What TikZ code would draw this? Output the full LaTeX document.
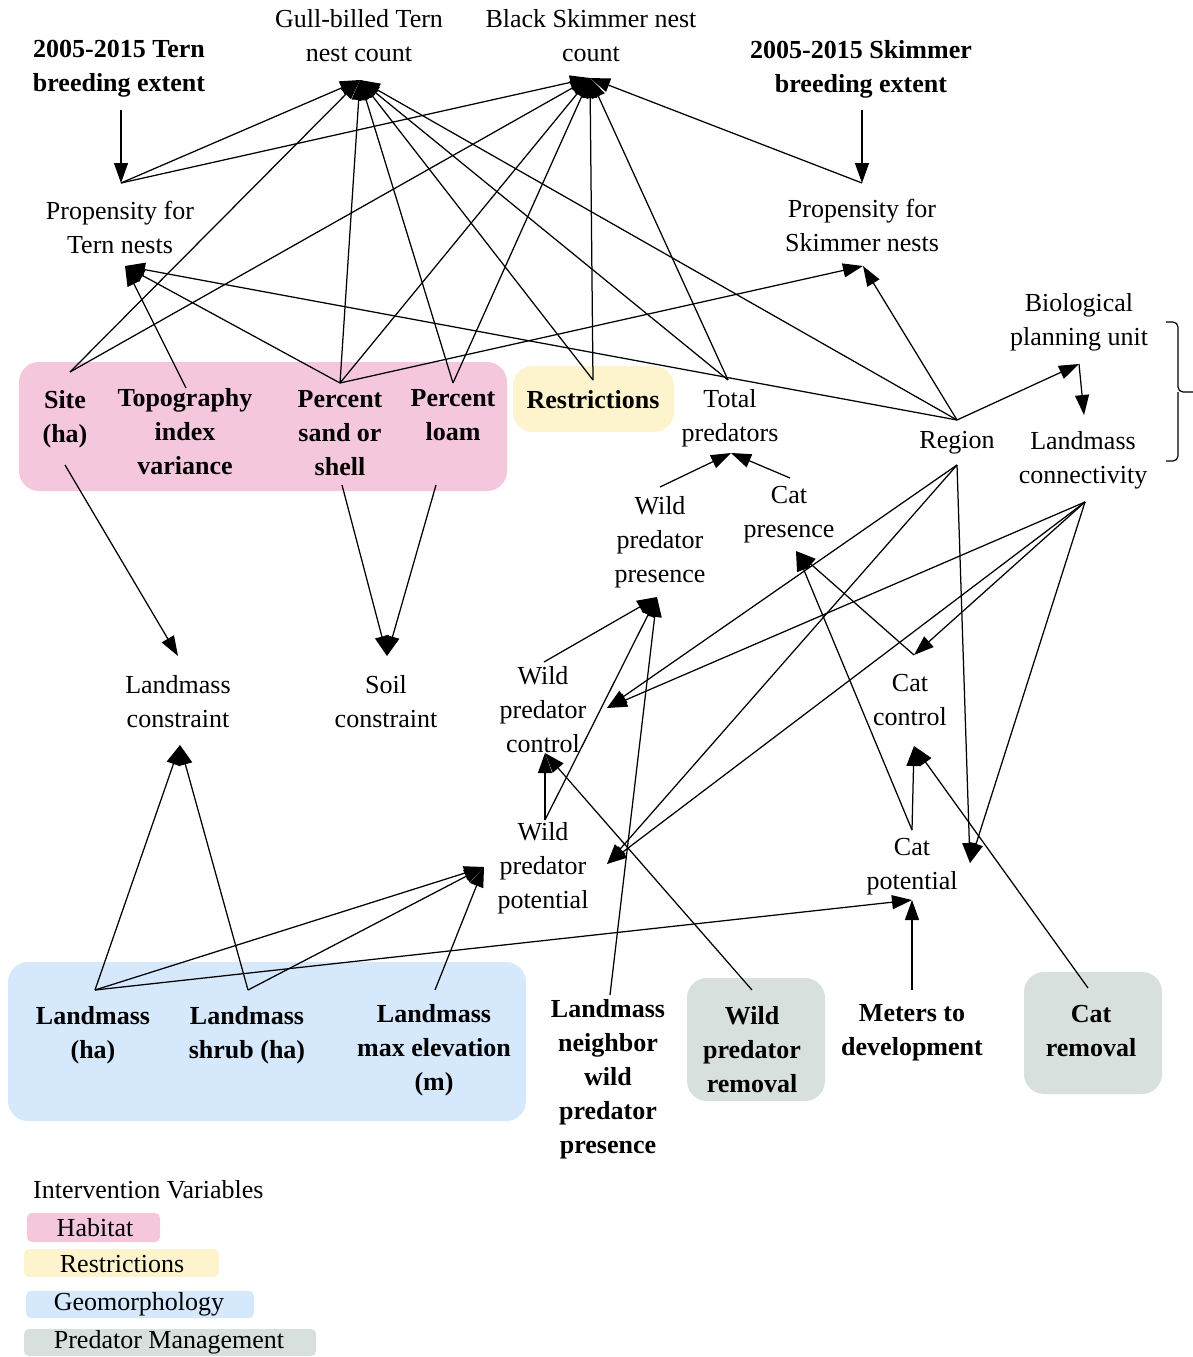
\documentclass[tikz,border=0pt]{standalone}
\usepackage{fontspec}
\setmainfont{Liberation Serif}
\usetikzlibrary{arrows.meta}
\definecolor{pinkbox}{RGB}{245,199,221}
\definecolor{yellowbox}{RGB}{253,243,205}
\definecolor{bluebox}{RGB}{214,232,252}
\definecolor{greybox}{RGB}{215,224,220}
\begin{document}
\begin{tikzpicture}[x=1pt,y=-1pt,
  lbl/.style={font=\fontsize{26}{34}\selectfont, align=center, inner sep=0pt},
  blbl/.style={font=\fontsize{26}{34}\selectfont\bfseries, align=center, inner sep=0pt},
  arr/.style={-{Triangle[length=20pt,width=14pt]}, line width=1.25pt},
  bigbox/.style={rounded corners=20pt},
  legbox/.style={rounded corners=5pt}]
\useasboundingbox (0,0) rectangle (1193,1357);

% group backgrounds
\fill[pinkbox,bigbox] (19,362) rectangle (507,491);
\fill[yellowbox,bigbox] (513,366) rectangle (674,432);
\fill[bluebox,bigbox] (8,962) rectangle (526,1121);
\fill[greybox,bigbox] (687,978) rectangle (825,1101);
\fill[greybox,bigbox] (1024,972) rectangle (1162,1094);

% nodes
\node[lbl]  (T1) at (359,36) {Gull-billed Tern\\nest count};
\node[lbl]  (T2) at (591,36) {Black Skimmer nest\\count};
\node[blbl] (B1) at (119,69) {2005-2015 Tern\\breeding extent};
\node[blbl] (B2) at (861,69) {2005-2015 Skimmer\\breeding extent};
\node[lbl]  (P1) at (120,227) {Propensity for\\Tern nests};
\node[lbl]  (P2) at (862,225) {Propensity for\\Skimmer nests};
\node[blbl] (Site) at (65,419) {Site\\(ha)};
\node[blbl] (Topo) at (185,432) {Topography\\index\\variance};
\node[blbl] (Sand) at (340,433) {Percent\\sand or\\shell};
\node[blbl] (Loam) at (453,415) {Percent\\loam};
\node[blbl] (Res) at (593,400) {Restrictions};
\node[lbl]  (TP) at (730,418) {Total\\predators};
\node[lbl]  (Reg) at (957,443) {Region};
\node[lbl]  (BPU) at (1079,322) {Biological\\planning unit};
\node[lbl]  (LC) at (1083,460) {Landmass\\connectivity};
\node[lbl]  (WPP) at (660,542) {Wild\\predator\\presence};
\node[lbl]  (CP) at (789,515) {Cat\\presence};
\node[lbl]  (LMC) at (178,702) {Landmass\\constraint};
\node[lbl]  (SC) at (386,702) {Soil\\constraint};
\node[lbl]  (WPC) at (543,710) {Wild\\predator\\control};
\node[lbl]  (CC) at (910,700) {Cat\\control};
\node[lbl]  (WPO) at (543,868) {Wild\\predator\\potential};
\node[lbl]  (CPO) at (912,867) {Cat\\potential};
\node[blbl] (LH) at (93,1035) {Landmass\\(ha)};
\node[blbl] (LS) at (247,1035) {Landmass\\shrub (ha)};
\node[blbl] (LE) at (434,1050) {Landmass\\max elevation\\(m)};
\node[blbl] (LN) at (608,1079) {Landmass\\neighbor\\wild\\predator\\presence};
\node[blbl] (WR) at (752,1050) {Wild\\predator\\removal};
\node[blbl] (MD) at (912,1033) {Meters to\\development};
\node[blbl] (CR) at (1091,1031) {Cat\\removal};

% brace
\draw[line width=1.2pt, rounded corners=5pt] (1166,322) -| (1178,392) -- (1193,392);
\draw[line width=1.2pt, rounded corners=5pt] (1166,461) -| (1178,392);

% anchor points
\coordinate (T1in) at (360,80);
\coordinate (T2in) at (590,78);
\coordinate (B1out) at (121,110);
\coordinate (B2out) at (862,110);
\coordinate (P1top) at (121,183);
\coordinate (P1bot) at (125,266);
\coordinate (P2top) at (862,183);
\coordinate (P2bot) at (863,266);
\coordinate (Sitetop) at (70,372);
\coordinate (Sitebot) at (65,465);
\coordinate (Topotop) at (186,388);
\coordinate (Sandtop) at (340,383);
\coordinate (Sandbot) at (342,485);
\coordinate (Loamtop) at (453,383);
\coordinate (Loambot) at (436,485);
\coordinate (Restop) at (593,380);
\coordinate (TPtop) at (728,380);
\coordinate (TPbot) at (731,453);
\coordinate (Regtop) at (957,420);
\coordinate (Regbot) at (957,465);
\coordinate (BPUbot) at (1079,364);
\coordinate (LCtop) at (1084,415);
\coordinate (LCbot) at (1085,502);
\coordinate (WPPtop) at (660,487);
\coordinate (WPPbot) at (657,597);
\coordinate (CPtop) at (790,478);
\coordinate (CPbot) at (796,551);
\coordinate (LMCtop) at (178,656);
\coordinate (LMCbot) at (180,745);
\coordinate (SCtop) at (387,656);
\coordinate (WPCtop) at (544,662);
\coordinate (WPCright) at (607,708);
\coordinate (WPCbot) at (545,753);
\coordinate (CCtop) at (914,655);
\coordinate (CCbot) at (914,746);
\coordinate (WPOtop) at (545,820);
\coordinate (WPOleft) at (484,867);
\coordinate (WPOright) at (607,864);
\coordinate (CPOtop) at (912,830);
\coordinate (CPOright) at (970,863);
\coordinate (CPObot) at (912,900);
\coordinate (LHtop) at (95,990);
\coordinate (LStop) at (248,990);
\coordinate (LEtop) at (435,990);
\coordinate (LNtop) at (610,995);
\coordinate (WRtop) at (752,990);
\coordinate (MDtop) at (912,990);
\coordinate (CRtop) at (1088,988);

% edges
\draw[arr] (B1out) -- (P1top);
\draw[arr] (B2out) -- (P2top);
\draw[arr] (P1top) -- (T1in);
\draw[arr] (P1top) -- (T2in);
\draw[arr] (P2top) -- (T2in);
\draw[arr] (Sitetop) -- (T1in);
\draw[arr] (Sitetop) -- (T2in);
\draw[arr] (Topotop) -- (P1bot);
\draw[arr] (Sandtop) -- (P1bot);
\draw[arr] (Regtop) -- (P1bot);
\draw[arr] (Sandtop) -- (T1in);
\draw[arr] (Sandtop) -- (T2in);
\draw[arr] (Sandtop) -- (P2bot);
\draw[arr] (Loamtop) -- (T1in);
\draw[arr] (Loamtop) -- (T2in);
\draw[arr] (Restop) -- (T1in);
\draw[arr] (Restop) -- (T2in);
\draw[arr] (TPtop) -- (T1in);
\draw[arr] (TPtop) -- (T2in);
\draw[arr] (Regtop) -- (T1in);
\draw[arr] (Regtop) -- (P2bot);
\draw[arr] (Regtop) -- (BPUbot);
\draw[arr] (BPUbot) -- (LCtop);
\draw[arr] (WPPtop) -- (TPbot);
\draw[arr] (CPtop) -- (TPbot);
\draw[arr] (Regbot) -- (WPCright);
\draw[arr] (Regbot) -- (WPOright);
\draw[arr] (Regbot) -- (CPOright);
\draw[arr] (LCbot) -- (WPCright);
\draw[arr] (LCbot) -- (CCtop);
\draw[arr] (LCbot) -- (WPOright);
\draw[arr] (LCbot) -- (CPOright);
\draw[arr] (CCtop) -- (CPbot);
\draw[arr] (CPOtop) -- (CPbot);
\draw[arr] (CPOtop) -- (CCbot);
\draw[arr] (CRtop) -- (CCbot);
\draw[arr] (MDtop) -- (CPObot);
\draw[arr] (LHtop) -- (CPObot);
\draw[arr] (WPCtop) -- (WPPbot);
\draw[arr] (WPOtop) -- (WPPbot);
\draw[arr] (WPOtop) -- (WPCbot);
\draw[arr] (LNtop) -- (WPPbot);
\draw[arr] (WRtop) -- (WPCbot);
\draw[arr] (LHtop) -- (WPOleft);
\draw[arr] (LStop) -- (WPOleft);
\draw[arr] (LEtop) -- (WPOleft);
\draw[arr] (LHtop) -- (LMCbot);
\draw[arr] (LStop) -- (LMCbot);
\draw[arr] (Sitebot) -- (LMCtop);
\draw[arr] (Sandbot) -- (SCtop);
\draw[arr] (Loambot) -- (SCtop);

% legend
\node[lbl, anchor=west] (LegT) at (33,1190) {Intervention Variables};
\fill[pinkbox,legbox] (27,1213) rectangle (160,1242);
\node[lbl] (LegH) at (95,1228) {Habitat};
\fill[yellowbox,legbox] (24,1249) rectangle (219,1277);
\node[lbl] (LegR) at (122,1264) {Restrictions};
\fill[bluebox,legbox] (26,1291) rectangle (254,1318);
\node[lbl] (LegG) at (139,1304) {Geomorphology};
\fill[greybox,legbox] (24,1329) rectangle (316,1356);
\node[lbl] (LegP) at (169,1342) {Predator Management};
\end{tikzpicture}
\end{document}
